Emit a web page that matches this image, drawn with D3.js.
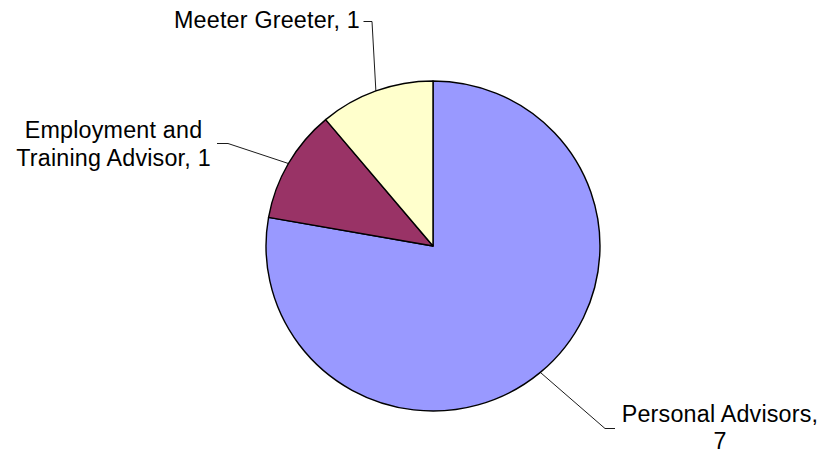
<!DOCTYPE html>
<html>
<head>
<meta charset="utf-8">
<script src="https://cdn.jsdelivr.net/npm/d3@7"></script>
<style>
  html, body { margin: 0; padding: 0; background: #fff; }
  svg { display: block; }
  text { font-family: "Liberation Sans", Arial, sans-serif; fill: #000; }
</style>
</head>
<body>
<svg id="chart" width="823" height="453"></svg>
<script>
const categories = ["Personal Advisors", "Employment and Training Advisor", "Meeter Greeter"];
const values = [7, 1, 1];
const colors = ["#9999FF", "#993366", "#FFFFCC"];

// label layout (not data)
const labelLayout = [
  { lines: ["Personal Advisors,", "7"], x: 720, y: 421.7, gap: 27, elbow: [605, 428.5], end: [615, 428.5] },
  { lines: ["Employment and", "Training Advisor, 1"], x: 113.5, y: 137.7, gap: 28.3, elbow: [228, 143.5], end: [217, 143.5] },
  { lines: ["Meeter Greeter, 1"], x: 360, y: 28.3, anchor: "end", elbow: [372, 21.5], end: [363.5, 21.5] }
];

const cx = 433, cy = 246, r = 165;
const svg = d3.select("#chart");
const data = categories.map((c, i) => ({ name: c, value: values[i], color: colors[i], layout: labelLayout[i] }));

const pie = d3.pie().value(d => d.value).sort(null);
const arcs = pie(data);
const arc = d3.arc().innerRadius(0).outerRadius(r);

const g = svg.append("g").attr("transform", `translate(${cx},${cy}) scale(1.012,1)`);
g.selectAll("path").data(arcs).join("path")
  .attr("d", arc)
  .attr("fill", d => d.data.color)
  .attr("stroke", "#000")
  .attr("stroke-width", 1.4)
  .attr("stroke-linejoin", "round");

// leader lines
arcs.forEach(a => {
  const mid = (a.startAngle + a.endAngle) / 2;
  const px = cx + 1.012 * r * Math.sin(mid);
  const py = cy - r * Math.cos(mid);
  const L = a.data.layout;
  svg.append("polyline")
    .attr("points", [[px, py], L.elbow, L.end].map(p => p.join(",")).join(" "))
    .attr("fill", "none")
    .attr("stroke", "#000")
    .attr("stroke-width", 0.9);
  const t = svg.append("text")
    .attr("x", L.x).attr("y", L.y)
    .attr("text-anchor", L.anchor || "middle")
    .style("font-size", "23.3px")
    .style("letter-spacing", "0.2px");
  L.lines.forEach((ln, i) => {
    t.append("tspan").attr("x", L.x).attr("dy", i === 0 ? 0 : (L.gap || 27.5)).text(ln);
  });
});
</script>
</body>
</html>
